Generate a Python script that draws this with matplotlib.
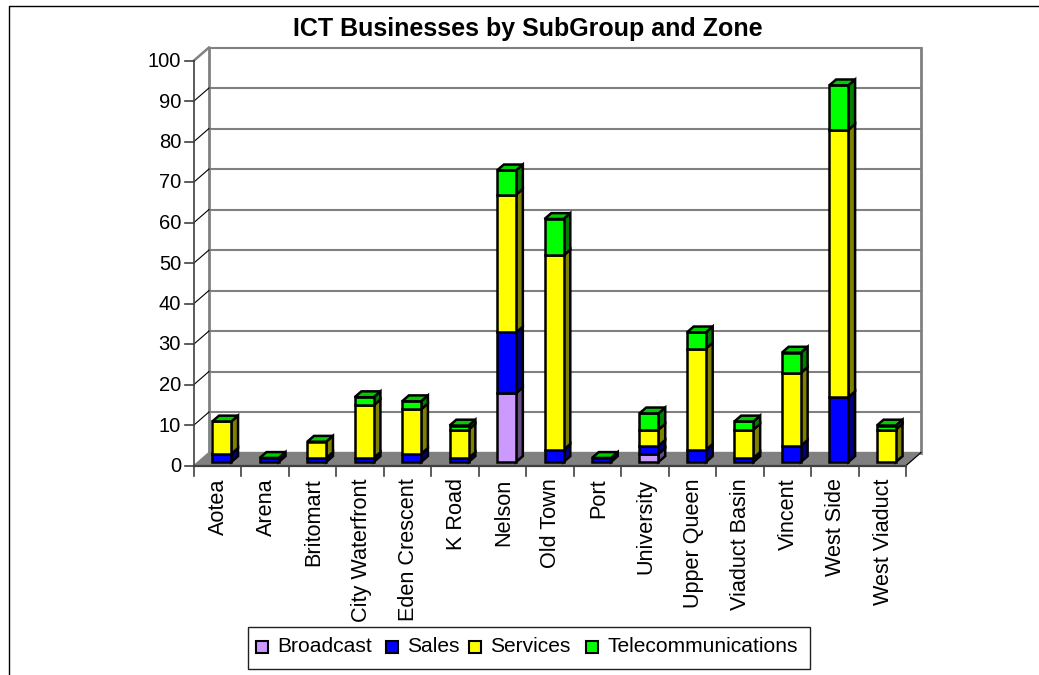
import numpy as np
import matplotlib
matplotlib.use('Agg')
import matplotlib.pyplot as plt
from matplotlib.lines import Line2D
from matplotlib.patches import Polygon, Rectangle

plt.rcParams['font.family'] = ['Liberation Sans', 'DejaVu Sans']

# data
zones = ['Aotea', 'Arena', 'Britomart', 'City Waterfront', 'Eden Crescent', 'K Road', 'Nelson',
         'Old Town', 'Port', 'University', 'Upper Queen', 'Viaduct Basin', 'Vincent', 'West Side',
         'West Viaduct']
broadcast = [0, 0, 0, 0, 0, 0, 17, 0, 0, 2, 0, 0, 0, 0, 0]
sales = [2, 1, 1, 1, 2, 1, 15, 3, 1, 2, 3, 1, 4, 16, 0]
services = [8, 0, 4, 13, 11, 7, 34, 48, 0, 4, 25, 7, 18, 66, 8]
telecom = [0, 0, 0, 2, 2, 1, 6, 9, 0, 4, 4, 2, 5, 11, 1]
y_ticks = list(range(0, 101, 10))

series = [
    ('Broadcast', broadcast, '#cc99ff', '#664c80'),
    ('Sales', sales, '#0000ff', '#000080'),
    ('Services', services, '#ffff00', '#808000'),
    ('Telecommunications', telecom, '#00ff00', '#008000'),
]

W, H = 1039, 675
GREY = '#808080'
AXIS = '#404040'

# 奥行き (data units)
DEPTH_X = 15 / 47.47
DEPTH_Y = 13 / 4.05
BAR_W = 19 / 47.47
BAR_NEAR = 0.27
BAR_FAR = 0.72
EDGE = dict(ec='black', lw=1.8, clip_on=False, joinstyle='miter')

fig = plt.figure(figsize=(W / 100, H / 100), dpi=100)
ax = fig.add_axes([194 / W, 1 - 465.5 / H, 712 / W, 405 / H])
ax.set_xlim(0, 15)
ax.set_ylim(0, 100)
ax.axis('off')


def draw_wall():
    # floor and walls
    ax.add_patch(Polygon([(0, 0), (15, 0), (15 + DEPTH_X, DEPTH_Y), (DEPTH_X, DEPTH_Y)],
                         fc=GREY, ec=GREY, lw=1, clip_on=False, zorder=1))
    for v in y_ticks[1:]:
        ax.plot([DEPTH_X, 15 + DEPTH_X], [v + DEPTH_Y, v + DEPTH_Y],
                color=GREY, lw=1.5, clip_on=False, zorder=1)
        # the top diagonal belongs to the grey wall outline
        if v == 100:
            ax.plot([0, DEPTH_X], [v, v + DEPTH_Y], color=GREY, lw=1.8, clip_on=False, zorder=1.1)
        else:
            ax.plot([0, DEPTH_X], [v, v + DEPTH_Y], color='black', lw=0.8, clip_on=False, zorder=1.1)
    for x in [DEPTH_X, 15 + DEPTH_X]:
        ax.plot([x, x], [DEPTH_Y, 100 + DEPTH_Y], color=GREY, lw=2, clip_on=False, zorder=1)
    ax.plot([15, 15 + DEPTH_X], [0, DEPTH_Y], color='black', lw=0.8, clip_on=False, zorder=1.1)


def draw_axes():
    ax.plot([0, 0], [0, 100], color=AXIS, lw=1.2, clip_on=False, zorder=2)
    ax.plot([0, 15], [0, 0], color=AXIS, lw=1.6, clip_on=False, zorder=2)
    for v in y_ticks:
        ax.plot([-0.19, 0], [v, v], color=AXIS, lw=1.2, clip_on=False, zorder=2)
        ax.annotate(str(v), (0, v), xytext=(-13, 1), textcoords='offset pixels', ha='right',
                    va='center_baseline', fontsize=14.5, annotation_clip=False)
    for i in range(16):
        ax.plot([i, i], [0, -10 / 4.05], color=AXIS, lw=1.2, clip_on=False, zorder=2)
    for i, name in enumerate(zones):
        ax.annotate(name, (i + 0.5, 0), xytext=(1, -13), textcoords='offset pixels', rotation=90,
                    ha='center', va='top', fontsize=15.6, annotation_clip=False)


def draw_bars():
    dx = (BAR_FAR - BAR_NEAR) * DEPTH_X
    dy = (BAR_FAR - BAR_NEAR) * DEPTH_Y
    tops = np.sum([s[1] for s in series], axis=0)
    for i in range(len(zones)):
        x0 = i + 0.5 - BAR_W / 2 + BAR_NEAR * DEPTH_X
        x1 = x0 + BAR_W
        base = BAR_NEAR * DEPTH_Y
        bottom = 0
        for k, (name, values, face, shade) in enumerate(series):
            if values[i] == 0:
                continue
            y0 = base + bottom
            y1 = y0 + values[i]
            ax.add_patch(Polygon([(x1, y0), (x1 + dx, y0 + dy), (x1 + dx, y1 + dy), (x1, y1)],
                                 fc=shade, zorder=3, **EDGE))
            ax.add_patch(Rectangle((x0, y0), BAR_W, values[i], fc=face, zorder=3.1, **EDGE))
            bottom += values[i]
        # 上面は常に最後の系列の色
        y1 = base + tops[i]
        ax.add_patch(Polygon([(x0, y1), (x1, y1), (x1 + dx, y1 + dy), (x0 + dx, y1 + dy)],
                             fc='#00cc00', zorder=3.2, **EDGE))


def draw_legend():
    fig.add_artist(Rectangle((247.5 / W, 1 - 669 / H), 562.5 / W, 42 / H, transform=fig.transFigure,
                             fc='white', ec='#202020', lw=1))
    marker_x = [256, 385.5, 469, 586]
    label_x = [277, 407, 490, 608]
    for s, mx, lx in zip(series, marker_x, label_x):
        fig.add_artist(Rectangle((mx / W, 1 - 653 / H), 12 / W, 12 / H, transform=fig.transFigure,
                                 fc=s[2], ec='black', lw=1.5))
        fig.text(lx / W, 1 - 647 / H, s[0], ha='left', va='center', fontsize=15.1)


draw_wall()
draw_bars()
draw_axes()

fig.text(527.5 / W, 1 - 29 / H, 'ICT Businesses by SubGroup and Zone', ha='center', va='center',
         fontsize=18, fontweight='bold')

# outer frame, only left and top are inside the picture
fig.add_artist(Line2D([8.5 / W, 8.5 / W, 1], [0, 1 - 5.5 / H, 1 - 5.5 / H], color='black', lw=1))

draw_legend()

fig.savefig('out.png', dpi=100)
